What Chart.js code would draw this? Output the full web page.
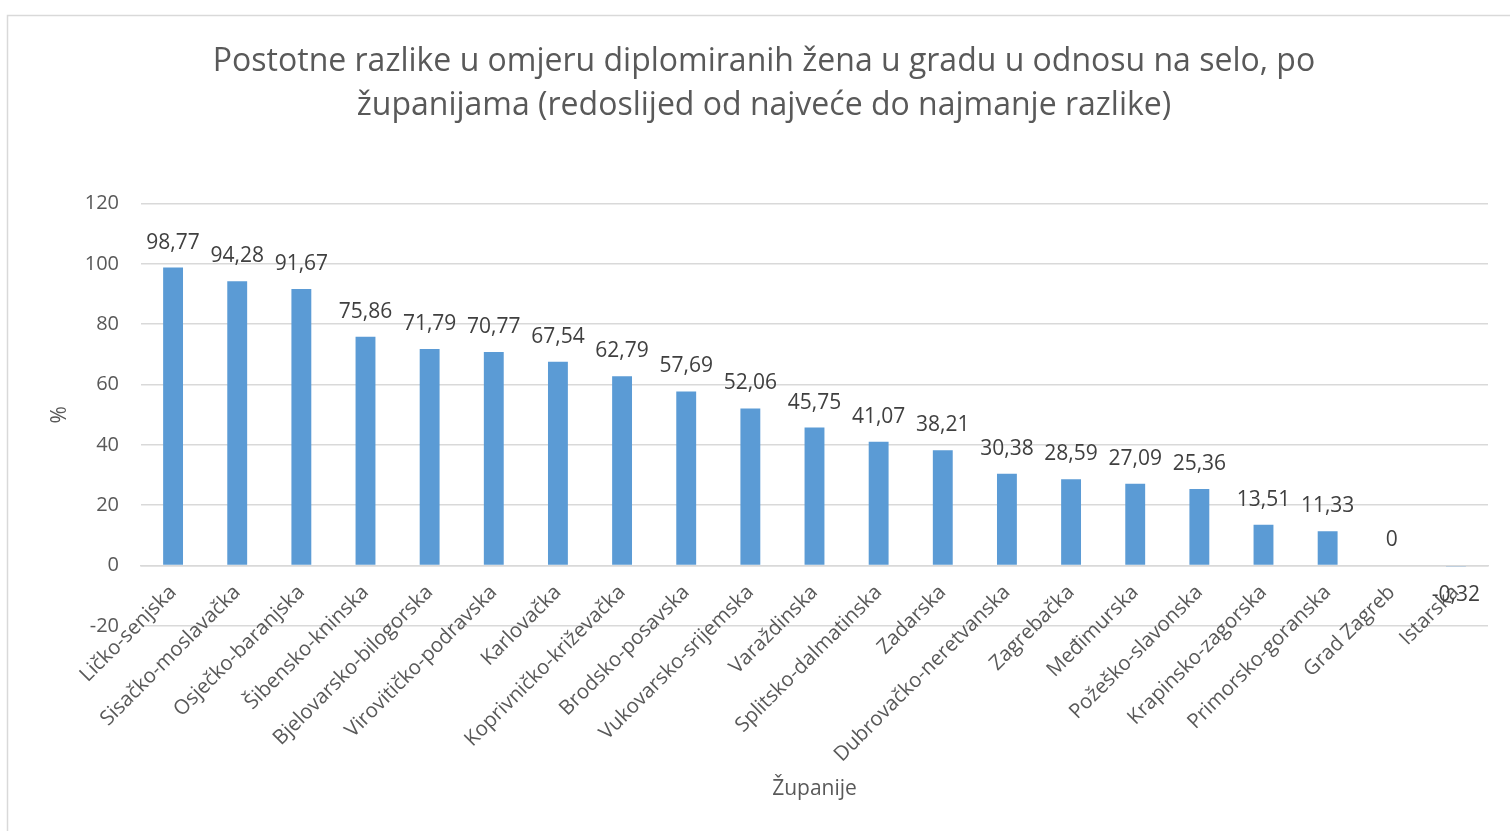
<!DOCTYPE html>
<html>
<head>
<meta charset="utf-8">
<script src="https://cdn.jsdelivr.net/npm/chart.js@4/dist/chart.umd.min.js"></script>
<style>
  body { margin: 0; background: #fff; }
  #wrap { position: relative; width: 1510px; height: 831px; }
</style>
</head>
<body>
<div id="wrap"><canvas id="chartBar"></canvas></div>
<script>
const zupanije = ['Ličko-senjska', 'Sisačko-moslavačka', 'Osječko-baranjska', 'Šibensko-kninska',
  'Bjelovarsko-bilogorska', 'Virovitičko-podravska', 'Karlovačka', 'Koprivničko-križevačka',
  'Brodsko-posavska', 'Vukovarsko-srijemska', 'Varaždinska', 'Splitsko-dalmatinska', 'Zadarska',
  'Dubrovačko-neretvanska', 'Zagrebačka', 'Međimurska', 'Požeško-slavonska', 'Krapinsko-zagorska',
  'Primorsko-goranska', 'Grad Zagreb', 'Istarska'];
const razlike = [98.77, 94.28, 91.67, 75.86, 71.79, 70.77, 67.54, 62.79, 57.69, 52.06, 45.75,
  41.07, 38.21, 30.38, 28.59, 27.09, 25.36, 13.51, 11.33, 0, -0.32];
const yMin = -20;
const yMax = 120;
const yStep = 20;

const font = "'Open Sans', 'DejaVu Sans', sans-serif";
const textGray = '#595959';

// okvir oko grafikona
const frame = {
  id: 'frame',
  beforeDraw(chart) {
    const ctx = chart.ctx;
    ctx.save();
    ctx.strokeStyle = '#d9d9d9';
    ctx.lineWidth = 1.5;
    ctx.strokeRect(7.5, 15.5, 1600, 1000);
    ctx.restore();
  }
};

// oznake vrijednosti iznad stupaca
const valueLabels = {
  id: 'valueLabels',
  afterDatasetsDraw(chart) {
    const ctx = chart.ctx;
    const meta = chart.getDatasetMeta(0);
    ctx.save();
    ctx.font = '21px ' + font;
    ctx.fillStyle = '#404040';
    ctx.textAlign = 'center';
    ctx.textBaseline = 'middle';
    meta.data.forEach((bar, i) => {
      const v = razlike[i];
      const txt = String(v).replace('.', ',');
      const y = v < 0 ? bar.y + 29 : bar.y - 25;
      ctx.fillText(txt, bar.x, y);
    });
    ctx.restore();
  }
};

new Chart(document.getElementById('chartBar'), {
  type: 'bar',
  data: {
    labels: zupanije,
    datasets: [{
      label: 'Razlika',
      data: razlike,
      backgroundColor: '#5b9bd5',
      borderWidth: 0,
      barPercentage: 0.31,
      categoryPercentage: 1
    }]
  },
  options: {
    responsive: true,
    maintainAspectRatio: false,
    animation: false,
    layout: { padding: { top: 20, left: 40, right: 22, bottom: 20 } },
    plugins: {
      legend: { display: false },
      tooltip: { enabled: false },
      title: {
        display: true,
        text: ['Postotne razlike u omjeru diplomiranih žena u gradu u odnosu na selo, po',
               'županijama (redoslijed od najveće do najmanje razlike)'],
        color: textGray,
        font: { family: font, size: 32, weight: 'normal', lineHeight: 1.4 },
        padding: { top: 19, bottom: 75 }
      },
      subtitle: {
        display: true,
        position: 'bottom',
        fullSize: false,
        text: 'Županije',
        color: textGray,
        font: { family: font, size: 21, weight: 'normal', lineHeight: 1.2 },
        padding: { top: 151, bottom: 9 }
      }
    },
    scales: {
      x: {
        position: { y: 0 },
        grid: { display: false },
        border: { color: '#d9d9d9', width: 1.5 },
        ticks: {
          color: textGray,
          font: { family: font, size: 20.5 },
          minRotation: 45,
          maxRotation: 45,
          autoSkip: false,
          padding: 7
        }
      },
      y: {
        min: yMin,
        max: yMax,
        afterFit(scale) { scale.width = 101; },
        grid: { color: '#d9d9d9', lineWidth: 1.5, drawTicks: false },
        border: { display: false },
        ticks: {
          stepSize: yStep,
          color: textGray,
          font: { family: font, size: 20 },
          padding: 22
        },
        title: {
          display: true,
          text: '%',
          color: textGray,
          font: { family: font, size: 21 },
          padding: { top: 7, bottom: 0 }
        }
      }
    }
  },
  plugins: [frame, valueLabels]
});
</script>
</body>
</html>
